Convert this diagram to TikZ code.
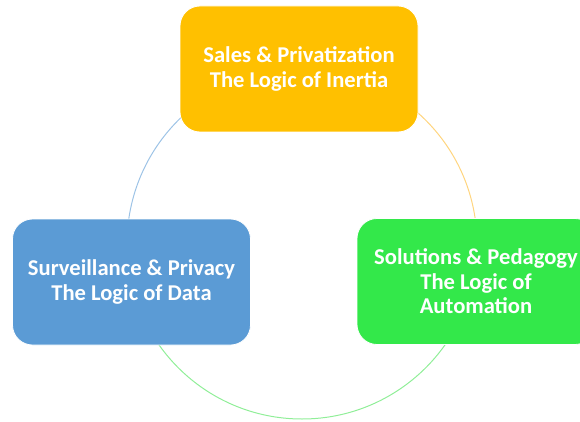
\documentclass[tikz,border=0pt]{standalone}
\usepackage{fontspec}
\setmainfont{Carlito}
\definecolor{gold}{HTML}{FFC000}
\definecolor{sky}{HTML}{5B9BD5}
\definecolor{lime}{HTML}{33E84A}
\definecolor{arcblue}{HTML}{9DC3E6}
\definecolor{arcgold}{HTML}{FFD57F}
\definecolor{arcgreen}{HTML}{90EE98}
\begin{document}
\begin{tikzpicture}[x=1pt,y=-1pt,
  card/.style={rounded corners=20pt, minimum width=238pt, minimum height=126pt,
    inner sep=0pt, text=white, font=\bfseries\fontsize{22.6}{24.5}\selectfont,
    align=center, draw=white, line width=0.8pt},
  ring/.style={line width=1pt}]
\useasboundingbox (0,0) rectangle (580,422);
\clip (0,0) rectangle (580,422);
\coordinate (c) at (302,244);
\draw[ring,arcblue] (c) ++(180:175) arc[start angle=180,end angle=270,radius=175];
\draw[ring,arcgold] (c) ++(270:175) arc[start angle=270,end angle=360,radius=175];
\draw[ring,arcgreen] (c) ++(0:175) arc[start angle=0,end angle=180,radius=175];
\node[card, fill=gold] (sales) at (299,69) {Sales \& Privatization\\The Logic of Inertia};
\node[card, fill=sky] (surv) at (131.5,282) {Surveillance \& Privacy\\The Logic of Data};
\node[card, fill=lime] (sol) at (476,281.5) {Solutions \& Pedagogy\\The Logic of\\Automation};
\end{tikzpicture}
\end{document}
